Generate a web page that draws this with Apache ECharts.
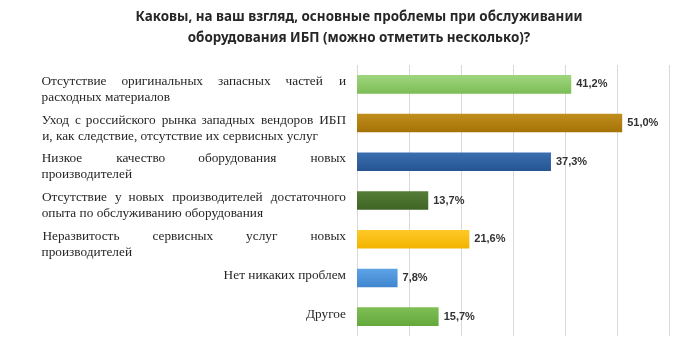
<!DOCTYPE html>
<html><head><meta charset="utf-8">
<script src="https://cdn.jsdelivr.net/npm/echarts@6/dist/echarts.min.js"></script>
<style>html,body{margin:0;padding:0;background:#fff}#c{width:683px;height:344px}</style>
</head><body><div id="c"></div>
<script>
const titleText = 'Каковы, на ваш взгляд, основные проблемы при обслуживании\nоборудования ИБП (можно отметить несколько)?';
const categories = [
  'Отсутствие оригинальных запасных частей и\nрасходных материалов',
  'Уход с российского рынка западных вендоров ИБП\nи, как следствие, отсутствие их сервисных услуг',
  'Низкое качество оборудования новых\nпроизводителей',
  'Отсутствие у новых производителей достаточного\nопыта по обслуживанию оборудования',
  'Неразвитость сервисных услуг новых\nпроизводителей',
  'Нет никаких проблем',
  'Другое'
];
const values = [41.2, 51.0, 37.3, 13.7, 21.6, 7.8, 15.7];
const colors = [
  ['#9fd67e', '#7cbd56'],
  ['#c08e1c', '#a57208'],
  ['#3a6fb0', '#265493'],
  ['#557d36', '#3f6424'],
  ['#ffc928', '#f2b400'],
  ['#5ea3e6', '#3f86cf'],
  ['#7ebf55', '#64a83c']
];

const FS = 13.3;
const LABEL_FONT = FS + 'px "Liberation Serif"';
const BLOCK_W = 304;
const cv = document.createElement('canvas').getContext('2d');
cv.font = LABEL_FONT;
const mw = s => cv.measureText(s).width;

const rich = {};
for (let i = 0; i <= 320; i++) rich['g' + i] = { width: i, fontSize: FS, fontFamily: 'Liberation Serif' };

function justify(label) {
  const lines = label.split('\n');
  if (lines.length === 1) return label;
  return lines.map((ln, idx) => {
    const words = ln.split(' ');
    if (idx === lines.length - 1) {
      const w = mw(ln);
      const pad = Math.max(0, Math.round(BLOCK_W - w));
      return ln + '{g' + pad + '| }';
    }
    const sum = words.reduce((a, w) => a + mw(w), 0);
    const gaps = words.length - 1;
    const total = BLOCK_W - sum;
    let out = '', acc = 0;
    words.forEach((w, i) => {
      out += w;
      if (i < gaps) {
        const target = Math.round(total * (i + 1) / gaps);
        const g = Math.max(0, target - acc);
        acc += g;
        out += '{g' + g + '| }';
      }
    });
    return out;
  }).join('\n');
}

const yData = categories.map(c => ({
  value: c,
  textStyle: c.indexOf('\n') >= 0 ? { padding: [10, 0, 0, 0] } : { padding: [0, 0, 4, 0] }
}));

const barData = values.map((v, i) => ({
  value: v,
  itemStyle: {
    color: new echarts.graphic.LinearGradient(0, 0, 0, 1, [
      { offset: 0, color: colors[i][0] },
      { offset: 1, color: colors[i][1] }
    ])
  }
}));

const chart = echarts.init(document.getElementById('c'));
chart.setOption({
  animation: false,
  backgroundColor: '#fff',
  title: {
    text: titleText,
    left: 354,
    top: 2,
    textAlign: 'center',
    textStyle: { fontFamily: 'Noto Sans', fontWeight: 'bold', fontSize: 13.4, color: '#262626', lineHeight: 21 }
  },
  grid: { left: 357, right: 14, top: 65, bottom: 8 },
  xAxis: {
    type: 'value', min: 0, max: 60, interval: 10,
    axisLabel: { show: false },
    axisLine: { show: false },
    axisTick: { show: false },
    splitLine: { lineStyle: { color: '#d9d9d9', width: 1 } }
  },
  yAxis: {
    type: 'category',
    inverse: true,
    data: yData,
    axisLine: { show: false },
    axisTick: { show: false },
    axisLabel: {
      interval: 0,
      hideOverlap: false,
      margin: 11,
      align: 'right',
      fontFamily: 'Liberation Serif',
      fontSize: FS,
      lineHeight: 16,
      color: '#262626',
      formatter: justify,
      rich: rich
    }
  },
  series: [{
    type: 'bar',
    data: barData,
    barCategoryGap: '52%',
    label: {
      show: true,
      position: 'right',
      distance: 5,
      fontFamily: 'Liberation Sans',
      fontWeight: 'bold',
      fontSize: 11,
      color: '#333',
      formatter: p => p.value.toFixed(1).replace('.', ',') + '%'
    }
  }]
});
</script>
</body></html>
